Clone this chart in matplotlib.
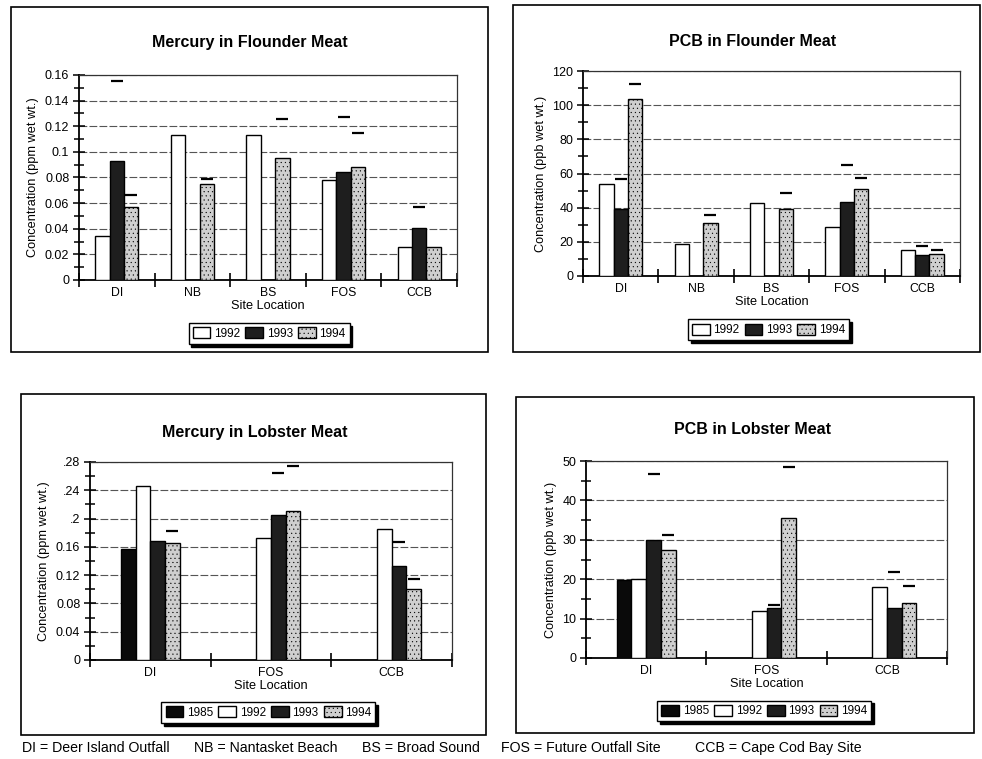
import numpy as np
import matplotlib
matplotlib.use("Agg")
import matplotlib.pyplot as plt
from matplotlib.patches import Rectangle

plt.rcParams['font.family'] = ['Liberation Sans', 'DejaVu Sans']
plt.rcParams['hatch.linewidth'] = 0.3

nan = np.nan

### DATA
flounder_sites = ["DI", "NB", "BS", "FOS", "CCB"]
flounder_years = ["1992", "1993", "1994"]

hg_flounder = {
    "1992": [0.034, 0.113, 0.113, 0.078, 0.0255],
    "1993": [0.0925, nan, nan, 0.084, 0.0405],
    "1994": [0.057, 0.075, 0.095, 0.088, 0.026],
}
hg_flounder_upper = {
    "1992": [nan, nan, nan, nan, nan],
    "1993": [0.155, nan, nan, 0.127, 0.057],
    "1994": [0.066, 0.079, 0.1257, 0.1145, nan],
}

pcb_flounder = {
    "1992": [53.8, 18.5, 42.7, 28.8, 15.2],
    "1993": [39.4, nan, nan, 43.4, 12.3],
    "1994": [103.4, 30.8, 39.2, 50.7, 12.9],
}
pcb_flounder_upper = {
    "1992": [nan, nan, nan, nan, nan],
    "1993": [56.7, nan, nan, 64.7, 17.7],
    "1994": [112.4, 35.7, 48.3, 57.5, 15.4],
}

lobster_sites = ["DI", "FOS", "CCB"]
lobster_years = ["1985", "1992", "1993", "1994"]

hg_lobster = {
    "1985": [0.1575, nan, nan],
    "1992": [0.246, 0.1726, 0.1858],
    "1993": [0.1678, 0.2046, 0.133],
    "1994": [0.1655, 0.2112, 0.101],
}
hg_lobster_upper = {
    "1985": [nan, nan, nan],
    "1992": [nan, nan, nan],
    "1993": [nan, 0.265, 0.1674],
    "1994": [0.183, 0.2744, 0.115],
}

pcb_lobster = {
    "1985": [19.8, nan, nan],
    "1992": [20.0, 11.9, 18.0],
    "1993": [30.0, 12.8, 12.8],
    "1994": [27.4, 35.5, 13.9],
}
pcb_lobster_upper = {
    "1985": [nan, nan, nan],
    "1992": [nan, nan, nan],
    "1993": [46.6, 13.4, 21.9],
    "1994": [31.2, 48.6, 18.2],
}

hg_flounder_ticks = [0, 0.02, 0.04, 0.06, 0.08, 0.1, 0.12, 0.14, 0.16]
hg_flounder_labels = ["0", "0.02", "0.04", "0.06", "0.08", "0.1", "0.12", "0.14", "0.16"]
pcb_flounder_ticks = [0, 20, 40, 60, 80, 100, 120]
hg_lobster_ticks = [0, 0.04, 0.08, 0.12, 0.16, 0.2, 0.24, 0.28]
hg_lobster_labels = ["0", "0.04", "0.08", "0.12", "0.16", ".2", ".24", ".28"]
pcb_lobster_ticks = [0, 10, 20, 30, 40, 50]

styles = {
    "1985": dict(facecolor="#0a0a0a", edgecolor="black"),
    "1992": dict(facecolor="white", edgecolor="black"),
    "1993": dict(facecolor="#1e1e1e", edgecolor="black"),
    "1994": dict(facecolor="#cfcfcf", edgecolor="black", hatch="...."),
}

W, H = 982, 759
fig = plt.figure(figsize=(W / 100, H / 100), dpi=100)


def px_axes(x0, y0, x1, y1):
    return fig.add_axes([x0 / W, 1 - y1 / H, (x1 - x0) / W, (y1 - y0) / H])


def frame(x0, y0, x1, y1):
    fig.add_artist(Rectangle((x0 / W, 1 - y1 / H), (x1 - x0) / W, (y1 - y0) / H,
                             transform=fig.transFigure, fill=False,
                             edgecolor="black", lw=1.2))


def panel(box, sites, years, values, upper, ticks, labels, ylabel, title,
          title_xy, bar_w, leg_xy):
    ax = px_axes(*box)
    n = len(years)
    x = np.arange(len(sites))
    handles = []
    for i, yr in enumerate(years):
        off = (i - (n - 1) / 2) * bar_w
        b = ax.bar(x + off, values[yr], width=bar_w, linewidth=1.0,
                   label=yr, zorder=3, **styles[yr])
        handles.append(b)
        ax.plot(x + off, upper[yr], ls="none", marker="_", ms=8, mew=1.6,
                color="black", zorder=4)
    ax.set_xlim(-0.5, len(sites) - 0.5)
    ax.set_ylim(ticks[0], ticks[-1])
    ax.set_yticks(ticks)
    ax.set_yticklabels(labels if labels else [str(t) for t in ticks])
    minors = [(a + b) / 2 for a, b in zip(ticks[:-1], ticks[1:])]
    ax.set_yticks(minors, minor=True)
    ax.set_xticks(np.arange(len(sites) + 1) - 0.5)
    ax.set_xticklabels([])
    ax.set_xticks(x, minor=True)
    ax.set_xticklabels(sites, minor=True)
    ax.tick_params(axis="x", which="major", direction="inout", length=10, width=1.2)
    ax.tick_params(axis="x", which="minor", length=0, pad=5, labelsize=8.8)
    ax.tick_params(axis="y", which="major", direction="inout", length=8, width=1.1,
                   labelsize=9, pad=3)
    ax.tick_params(axis="y", which="minor", direction="inout", length=7, width=1.1)
    ax.grid(axis="y", which="major", color="#555555", lw=0.8,
            linestyle=(0, (7, 2)), zorder=0)
    for s in ["left", "bottom"]:
        ax.spines[s].set_linewidth(1.3)
    for s in ["top", "right"]:
        ax.spines[s].set_linewidth(0.9)
        ax.spines[s].set_color("#333333")
    ax.set_xlabel("Site Location", fontsize=9.2, labelpad=0.5)
    ax.set_ylabel(ylabel, fontsize=9.2, labelpad=4)
    fig.text(title_xy[0] / W, 1 - title_xy[1] / H, title, ha="center",
             va="center", fontsize=11.5, fontweight="bold")
    ax.legend(handles=handles, loc="center", bbox_to_anchor=leg_xy,
              ncol=n, fontsize=8.5, frameon=True, fancybox=False,
              edgecolor="black", framealpha=1, borderpad=0.35,
              handlelength=1.5, handleheight=1.1, handletextpad=0.3,
              columnspacing=0.45, borderaxespad=0,
              shadow={"ox": 2, "oy": -2, "color": "black", "alpha": 1})
    return ax


frame(11, 7, 488, 352)
frame(513, 5, 980, 352)
frame(21, 394, 486, 735)
frame(516, 397, 974, 733)

panel((79, 75, 457, 280), flounder_sites, flounder_years, hg_flounder,
      hg_flounder_upper, hg_flounder_ticks, hg_flounder_labels,
      "Concentration (ppm wet wt.)", "Mercury in Flounder Meat", (250, 42),
      0.19, (0.503, -0.261))
panel((583, 71, 960, 276), flounder_sites, flounder_years, pcb_flounder,
      pcb_flounder_upper, pcb_flounder_ticks, None,
      "Concentration (ppb wet wt.)", "PCB in Flounder Meat", (753, 42),
      0.19, (0.492, -0.263))
panel((90, 462, 452, 660), lobster_sites, lobster_years, hg_lobster,
      hg_lobster_upper, hg_lobster_ticks, hg_lobster_labels,
      "Concentration (ppm wet wt.)", "Mercury in Lobster Meat", (255, 432),
      0.122, (0.493, -0.265))
panel((586, 461, 947, 658), lobster_sites, lobster_years, pcb_lobster,
      pcb_lobster_upper, pcb_lobster_ticks, None,
      "Concentration (ppb wet wt.)", "PCB in Lobster Meat", (752, 430),
      0.122, (0.494, -0.269))

footer = [(22, "DI = Deer Island Outfall"), (194, "NB = Nantasket Beach"),
          (362, "BS = Broad Sound"), (501, "FOS = Future Outfall Site"),
          (695, "CCB = Cape Cod Bay Site")]
for fx, txt in footer:
    fig.text(fx / W, 1 - 748 / H, txt, ha="left", va="center", fontsize=10.2)

fig.savefig("out.png", dpi=100)
